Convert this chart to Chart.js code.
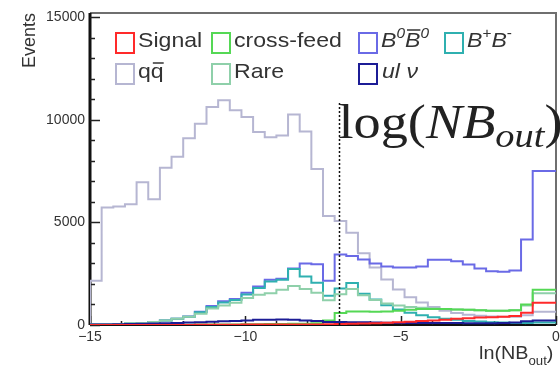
<!DOCTYPE html>
<html>
<head>
<meta charset="utf-8">
<script src="https://cdn.jsdelivr.net/npm/chart.js@4.4.1/dist/chart.umd.min.js"></script>
<style>
  html, body { margin: 0; padding: 0; background: #fff; overflow: hidden; }
  canvas { display: block; }
</style>
</head>
<body>
<canvas id="myChart" width="560" height="366"></canvas>
<script>
// DATA (events per bin, 40 bins from -15 to 0)
const binLow = -15;
const binHigh = 0;
const nBins = 40;

const signal = [0, 0, 0, 0, 0, 0, 0, 0, 0, 0, 10, 10, 10, 10, 20, 20, 20, 20, 30, 30,
  30, 40, 50, 60, 70, 90, 110, 130, 160, 190, 220, 260, 300, 330, 360, 380, 400, 440, 600, 1080];
const crossFeed = [0, 0, 0, 0, 0, 0, 0, 0, 10, 10, 20, 20, 30, 30, 40, 40, 50, 50, 60, 60,
  80, 220, 580, 660, 660, 640, 660, 700, 740, 780, 780, 780, 760, 740, 720, 700, 700, 720, 1000, 1720];
const b0b0bar = [0, 20, 30, 50, 70, 100, 150, 220, 300, 420, 650, 920, 1160, 1270, 1570, 1880, 2200, 2250, 2750, 3000,
  2960, 2150, 3430, 3360, 3190, 3000, 2850, 2800, 2800, 2850, 3180, 3180, 3100, 2950, 2750, 2620, 2600, 2650, 4170, 7500];
const bPlusBMinus = [0, 20, 30, 50, 70, 100, 150, 220, 300, 400, 620, 880, 1100, 1220, 1480, 1800, 2120, 2200, 2730, 2360,
  2060, 1420, 1780, 2050, 1520, 1240, 960, 760, 600, 480, 380, 300, 250, 200, 170, 140, 120, 100, 100, 120];
const qqbar = [0, 2150, 5720, 5770, 5880, 6950, 6130, 7660, 8200, 9100, 9800, 10620, 10950, 10460, 10130, 9400, 9150, 9230, 10250, 9430,
  7600, 5310, 5070, 4500, 3500, 2800, 2220, 1730, 1350, 1100, 880, 700, 580, 500, 450, 420, 400, 400, 480, 650];
const rare = [0, 20, 30, 50, 80, 100, 150, 220, 300, 400, 550, 800, 950, 1080, 1320, 1470, 1550, 1720, 1900, 1750,
  1570, 1200, 1500, 1750, 1450, 1220, 1050, 950, 880, 840, 800, 780, 760, 740, 720, 700, 700, 720, 950, 1550];
const ulnu = [0, 20, 30, 40, 50, 60, 70, 80, 100, 120, 140, 160, 180, 200, 220, 250, 250, 270, 250, 220,
  200, 150, 150, 140, 130, 120, 110, 100, 100, 100, 100, 100, 100, 90, 90, 90, 100, 120, 180, 220];

const xTicks = [-15, -10, -5, 0];
const yTicks = [0, 5000, 10000, 15000];
const cutValue = -7;

// COLORS
const cRed = '#ff2a2a';
const cCross = '#55d855';
const cB0 = '#6a6ae6';
const cBpm = '#2fb0b0';
const cQQ = '#b6b6d2';
const cRare = '#8fd0aa';
const cUlnu = '#1c1c96';

const SANS = '"Liberation Sans", Arial, sans-serif';
const SERIF = '"Liberation Serif", "DejaVu Serif", serif';
const SX = 1.1; // the picture is a bit stretched sideways

// FUNCTIONS
function toSteps(values) {
  const w = (binHigh - binLow) / nBins;
  const pts = values.map((v, i) => ({ x: binLow + i * w, y: v }));
  pts.push({ x: binHigh, y: values[values.length - 1] });
  return pts;
}

function hist(label, values, color) {
  return {
    label: label,
    data: toSteps(values),
    borderColor: color,
    backgroundColor: color,
    borderWidth: 2,
    fill: false,
    stepped: 'after',
    pointRadius: 0
  };
}

// draw a row of text pieces, stretched sideways by sx
function drawRun(ctx, x, y, segs, sx) {
  let cx = x;
  segs.forEach(s => {
    ctx.font = s.font;
    const w = ctx.measureText(s.t).width * sx;
    ctx.save();
    ctx.translate(cx, y + (s.dy || 0));
    ctx.scale(sx, 1);
    ctx.fillText(s.t, 0, 0);
    ctx.restore();
    if (s.bar) {
      ctx.save();
      ctx.strokeStyle = ctx.fillStyle;
      ctx.lineWidth = 1.5;
      ctx.beginPath();
      ctx.moveTo(cx + 2, y - s.bar);
      ctx.lineTo(cx + w, y - s.bar);
      ctx.stroke();
      ctx.restore();
    }
    cx += w;
  });
  return cx;
}

function runWidth(ctx, segs) {
  let w = 0;
  segs.forEach(s => { ctx.font = s.font; w += ctx.measureText(s.t).width; });
  return w;
}

// LEGEND
const fMain = '21px ' + SANS;
const fIt = 'italic 21px ' + SANS;
const fSup = '14px ' + SANS;
const fSupIt = 'italic 14px ' + SANS;
const legendItems = [
  { color: cRed, bx: 116, by: 33, tx: 138, ty: 47, segs: [{ t: 'Signal', font: fMain }] },
  { color: cCross, bx: 212, by: 33, tx: 234, ty: 47, segs: [{ t: 'cross-feed', font: fMain }] },
  { color: cB0, bx: 359, by: 33, tx: 381, ty: 47, segs: [
    { t: 'B', font: fIt }, { t: '0', font: fSupIt, dy: -9 },
    { t: 'B', font: fIt, bar: 17 }, { t: '0', font: fSupIt, dy: -9 }] },
  { color: cBpm, bx: 445, by: 33, tx: 467, ty: 47, segs: [
    { t: 'B', font: fIt }, { t: '+', font: fSup, dy: -9 },
    { t: 'B', font: fIt }, { t: '-', font: fSup, dy: -9 }] },
  { color: cQQ, bx: 116, by: 64, tx: 138, ty: 78, segs: [
    { t: 'q', font: fMain }, { t: 'q', font: fMain, bar: 15 }] },
  { color: cRare, bx: 212, by: 64, tx: 234, ty: 78, segs: [{ t: 'Rare', font: fMain }] },
  { color: cUlnu, bx: 359, by: 64, tx: 382, ty: 78, segs: [
    { t: 'ul ', font: fIt }, { t: '\u03bd', font: fIt }] }
];

// PLUGIN: FRAME, TICKS, LEGEND, TEXTS
const histDecor = {
  id: 'histDecor',
  beforeDatasetsDraw(chart) {
    const ctx = chart.ctx;
    const a = chart.chartArea;
    const xs = chart.scales.x;
    const ys = chart.scales.y;
    ctx.save();
    // frame top/right
    ctx.strokeStyle = '#6f6f6f';
    ctx.lineWidth = 2;
    ctx.beginPath();
    ctx.moveTo(a.left, a.top);
    ctx.lineTo(a.right, a.top);
    ctx.lineTo(a.right, a.bottom);
    ctx.stroke();
    // axes
    ctx.strokeStyle = '#111';
    ctx.lineWidth = 3;
    ctx.beginPath();
    ctx.moveTo(a.left, a.top);
    ctx.lineTo(a.left, a.bottom);
    ctx.stroke();
    ctx.lineWidth = 2;
    ctx.beginPath();
    ctx.moveTo(a.left, a.bottom);
    ctx.lineTo(a.right, a.bottom);
    ctx.stroke();
    // y ticks
    ctx.lineWidth = 1.5;
    ctx.strokeStyle = '#222';
    for (let v = 0; v <= 15000; v += 1000) {
      const py = Math.round(ys.getPixelForValue(v)) + 0.5;
      const len = v % 5000 === 0 ? 10 : 5;
      ctx.beginPath();
      ctx.moveTo(a.left, py);
      ctx.lineTo(a.left + len, py);
      ctx.stroke();
    }
    // x ticks
    for (let v = -15; v <= 0; v += 1) {
      const px = Math.round(xs.getPixelForValue(v)) + 0.5;
      const len = v % 5 === 0 ? 9 : 4;
      ctx.beginPath();
      ctx.moveTo(px, a.bottom);
      ctx.lineTo(px, a.bottom - len);
      ctx.stroke();
    }
    ctx.restore();
  },
  afterDatasetsDraw(chart) {
    const ctx = chart.ctx;
    const a = chart.chartArea;
    const xs = chart.scales.x;
    ctx.save();

    // cut line
    const cx = Math.round(xs.getPixelForValue(cutValue)) + 0.5;
    ctx.strokeStyle = '#111';
    ctx.lineWidth = 1.5;
    ctx.setLineDash([2, 2]);
    ctx.beginPath();
    ctx.moveTo(cx, 103);
    ctx.lineTo(cx, a.bottom);
    ctx.stroke();
    ctx.setLineDash([]);

    // legend
    ctx.textBaseline = 'alphabetic';
    ctx.textAlign = 'left';
    legendItems.forEach(it => {
      ctx.strokeStyle = it.color;
      ctx.lineWidth = 2;
      ctx.strokeRect(it.bx, it.by, 18, 20);
      ctx.fillStyle = '#333';
      drawRun(ctx, it.tx, it.ty, it.segs, SX);
    });

    // big annotation
    ctx.fillStyle = '#222';
    const ann = [
      { t: 'log(', font: '48px ' + SERIF },
      { t: 'NB', font: 'italic 48px ' + SERIF },
      { t: 'out', font: 'italic 34px ' + SERIF, dy: 9 },
      { t: ')', font: '48px ' + SERIF }
    ];
    const annSx = 224 / runWidth(ctx, ann);
    drawRun(ctx, cx - 1, 138, ann, annSx);

    // axis titles
    ctx.fillStyle = '#333';
    drawRun(ctx, 479, 359, [
      { t: 'ln(NB', font: '18px ' + SANS },
      { t: 'out', font: '12px ' + SANS, dy: 6 },
      { t: ')', font: '18px ' + SANS }
    ], SX);

    ctx.translate(35, 13);
    ctx.rotate(-Math.PI / 2);
    ctx.textAlign = 'right';
    ctx.font = '18px ' + SANS;
    ctx.fillText('Events', 0, 0);
    ctx.restore();
  }
};

// DRAWING THE CHART
const ctx = document.getElementById('myChart').getContext('2d');
const myChart = new Chart(ctx, {
  type: 'line',
  data: {
    datasets: [
      hist('Signal', signal, cRed),
      hist('ul\u03bd', ulnu, cUlnu),
      hist('cross-feed', crossFeed, cCross),
      hist('Rare', rare, cRare),
      hist('B+B-', bPlusBMinus, cBpm),
      hist('B0B0bar', b0b0bar, cB0),
      hist('qqbar', qqbar, cQQ)
    ]
  },
  options: {
    responsive: false,
    animation: false,
    devicePixelRatio: 1,
    layout: { padding: { top: 13, right: 4, left: 0, bottom: 0 } },
    plugins: { legend: { display: false }, tooltip: { enabled: false } },
    scales: {
      x: {
        type: 'linear',
        min: binLow,
        max: binHigh,
        grid: { display: false, drawTicks: false },
        border: { display: false },
        ticks: {
          color: '#333',
          font: { family: SANS, size: 14 },
          padding: 4,
          maxRotation: 0,
          autoSkip: false,
          callback: v => (v < 0 ? '\u2212' + Math.abs(v) : String(v))
        },
        afterBuildTicks: s => { s.ticks = xTicks.map(v => ({ value: v })); },
        afterFit: s => { s.height = 41; s.paddingLeft = 0; s.paddingRight = 0; }
      },
      y: {
        min: 0,
        max: 15200,
        grid: { display: false, drawTicks: false },
        border: { display: false },
        ticks: {
          color: '#333',
          font: { family: SANS, size: 14 },
          padding: 5,
          autoSkip: false,
          callback: v => String(v)
        },
        afterBuildTicks: s => { s.ticks = yTicks.map(v => ({ value: v })); },
        afterFit: s => { s.width = 90; s.paddingTop = 0; s.paddingBottom = 0; }
      }
    }
  },
  plugins: [histDecor]
});
</script>
</body>
</html>
